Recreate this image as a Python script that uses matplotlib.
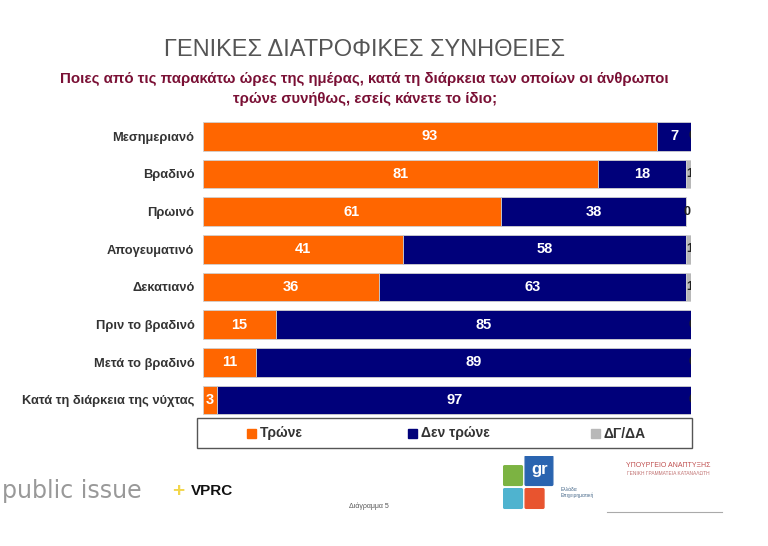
import matplotlib.pyplot as plt
import matplotlib.patches as mpatches
import numpy as np

plt.rcParams['font.family'] = ['Liberation Sans', 'DejaVu Sans']

categories = ['Μεσημεριανό', 'Βραδινό', 'Πρωινό', 'Απογευματινό', 'Δεκατιανό',
              'Πριν το βραδινό', 'Μετά το βραδινό', 'Κατά τη διάρκεια της νύχτας']
eat = [93, 81, 61, 41, 36, 15, 11, 3]
not_eat = [7, 18, 38, 58, 63, 85, 89, 97]
dk_na = [0, 1, 0, 1, 1, 0, 0, 0]
series_names = ['Τρώνε', 'Δεν τρώνε', 'ΔΓ/ΔΑ']

ORANGE = '#ff6600'
NAVY = '#00007a'
GREY = '#b8b8b8'
colors = [ORANGE, NAVY, GREY]

fig = plt.figure(figsize=(7.68, 5.46), dpi=100)
fig.patch.set_facecolor('white')

ax = fig.add_axes([0.264, 0.233, 0.636, 0.552])
y = np.arange(len(categories))
left = np.zeros(len(categories))
for vals, col, tcol in [(eat, ORANGE, 'white'), (not_eat, NAVY, 'white'), (dk_na, GREY, '#222222')]:
    vals = np.array(vals, dtype=float)
    ax.barh(y, vals, left=left, height=0.76, color=col, edgecolor='#d0d0d0', linewidth=0.6)
    for i, v in enumerate(vals):
        if col == GREY:
            ax.text(left[i] + v / 2 + 0.15, y[i], '%d' % v, ha='center', va='center',
                    fontsize=9, fontweight='bold', color=tcol, clip_on=True)
        else:
            ax.text(left[i] + v / 2, y[i], '%d' % v, ha='center', va='center',
                    fontsize=10.5, fontweight='bold', color=tcol)
    left += vals

ax.set_xlim(0, 100)
ax.set_ylim(len(categories) - 0.5, -0.5)
ax.set_yticks(y)
ax.set_yticklabels(categories, fontsize=9.3, fontweight='bold', color='#333333')
ax.tick_params(axis='y', length=0, pad=6)
ax.set_xticks([])
for s in ax.spines.values():
    s.set_visible(False)

# legend box, laid out by hand
W, H = 768.0, 546.0
fig.add_artist(mpatches.Rectangle((197 / W, 1 - 448 / H), 495 / W, 30 / H,
                                  transform=fig.transFigure, fill=False,
                                  edgecolor='#555555', linewidth=1.0))
for name, col, xm in zip(series_names, colors, [247, 408, 591]):
    fig.add_artist(mpatches.Rectangle((xm / W, 1 - 438 / H), 9 / W, 9 / H,
                                      transform=fig.transFigure, color=col))
    fig.text((xm + 13) / W, 1 - 433.5 / H, name, ha='left', va='center',
             fontsize=10, fontweight='bold', color='#333333')

# titles
fig.text(0.475, 0.908, 'ΓΕΝΙΚΕΣ ΔΙΑΤΡΟΦΙΚΕΣ ΣΥΝΗΘΕΙΕΣ', ha='center', va='center',
         fontsize=17, color='#555555')
fig.text(0.475, 0.856, 'Ποιες από τις παρακάτω ώρες της ημέρας, κατά τη διάρκεια των οποίων οι άνθρωποι',
         ha='center', va='center', fontsize=10.8, fontweight='bold', color='#7a1035')
fig.text(0.475, 0.819, 'τρώνε συνήθως, εσείς κάνετε το ίδιο;',
         ha='center', va='center', fontsize=10.8, fontweight='bold', color='#7a1035')

# footer
fig.text(0.003, 0.1, 'public issue', ha='left', va='center', fontsize=17,
         color='#999999', family=['DejaVu Sans'])
fig.text(0.232, 0.1, '+', ha='center', va='center', fontsize=15, color='#f2d64b',
         fontweight='bold')
fig.text(0.248, 0.1, 'VPRC', ha='left', va='center', fontsize=11, fontweight='bold',
         color='#111111')
fig.text(0.48, 0.073, 'Διάγραμμα 5', ha='center', va='center', fontsize=5, color='#555555')

# small logo blocks
lg = fig.add_axes([0.655, 0.065, 0.072, 0.1])
lg.set_xlim(0, 10)
lg.set_ylim(0, 10)
lg.axis('off')
lg.add_patch(mpatches.FancyBboxPatch((0.3, 4.8), 3.0, 3.2, boxstyle='round,pad=0.2', color='#7cb342'))
lg.add_patch(mpatches.FancyBboxPatch((0.3, 0.6), 3.0, 3.2, boxstyle='round,pad=0.2', color='#4fb3cf'))
lg.add_patch(mpatches.FancyBboxPatch((4.2, 0.6), 3.0, 3.2, boxstyle='round,pad=0.2', color='#e8542f'))
lg.add_patch(mpatches.FancyBboxPatch((4.2, 4.8), 4.6, 5.0, boxstyle='round,pad=0.2', color='#2a64b0'))
lg.text(6.6, 7.6, 'gr', ha='center', va='center', fontsize=12, color='white', fontweight='bold')
fig.text(0.73, 0.098, 'Ελλάδα\nΕπιχειρηματική', fontsize=3.5, color='#446688', va='center')

fig.text(0.87, 0.148, 'ΥΠΟΥΡΓΕΙΟ ΑΝΑΠΤΥΞΗΣ', ha='center', va='center', fontsize=5,
         color='#c05050')
fig.text(0.87, 0.133, 'ΓΕΝΙΚΗ ΓΡΑΜΜΑΤΕΙΑ ΚΑΤΑΝΑΛΩΤΗ', ha='center', va='center', fontsize=3.5,
         color='#c07070')
fig.add_artist(plt.Line2D([0.79, 0.94], [0.062, 0.062], color='#aaaaaa', lw=0.8))

fig.savefig('out.png', dpi=100)
